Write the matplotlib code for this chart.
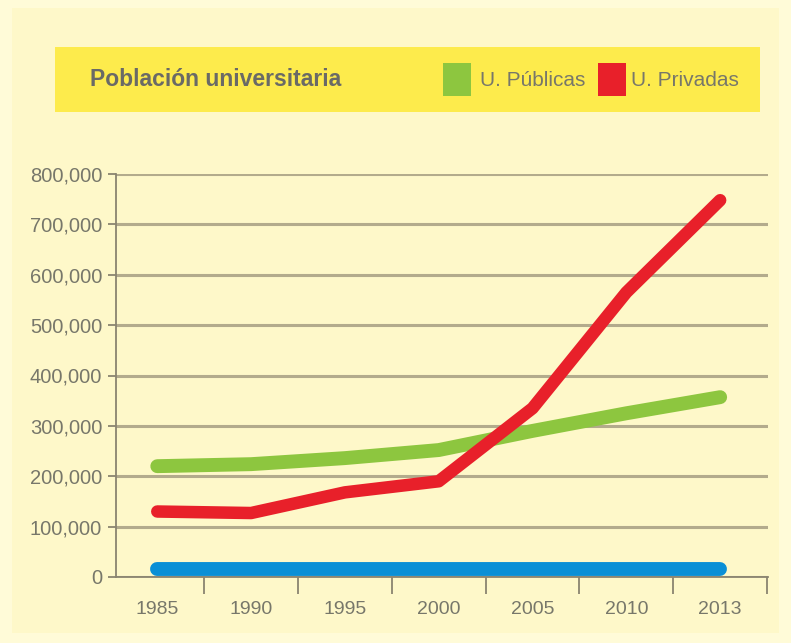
import matplotlib.pyplot as plt
from matplotlib.patches import Rectangle
from matplotlib.ticker import FuncFormatter, FixedLocator

plt.rcParams['font.family'] = ['Liberation Sans Narrow', 'Liberation Sans', 'DejaVu Sans']

years = ["1985", "1990", "1995", "2000", "2005", "2010", "2013"]
publicas = [220000, 224000, 236000, 252000, 290000, 325000, 357000]
privadas = [130000, 127000, 168000, 190000, 335000, 565000, 748000]
otras = [16000, 16000, 16000, 16000, 16000, 16000, 16000]

GREEN = "#8DC63F"
RED = "#E8202A"
BLUE = "#0A8FD6"
TXT = "#77776a"
GRID = "#b3ab8c"

fig = plt.figure(figsize=(7.91, 6.43), dpi=100)
fig.patch.set_facecolor("#FFFBD8")
fig.patches.append(Rectangle((12 / 791, 10 / 643), 767 / 791, 625 / 643,
                             transform=fig.transFigure, facecolor="#FEF8C9",
                             edgecolor="none", zorder=-2))

# title band
fig.patches.append(Rectangle((55 / 791, 1 - 112 / 643), 705 / 791, 65 / 643,
                             transform=fig.transFigure, facecolor="#FDEB4C",
                             edgecolor="none", zorder=-1))
fig.text(90 / 791, 1 - 80 / 643, "Población universitaria", fontsize=16.5,
         fontweight="bold", color="#6a6a66", va="center", ha="left")
fig.patches.append(Rectangle((443 / 791, 1 - 96 / 643), 28 / 791, 33 / 643,
                             transform=fig.transFigure, facecolor=GREEN,
                             edgecolor="none", zorder=-0.5))
fig.text(480 / 791, 1 - 80 / 643, "U. Públicas", fontsize=15, color=TXT,
         va="center", ha="left")
fig.patches.append(Rectangle((598 / 791, 1 - 96 / 643), 28 / 791, 33 / 643,
                             transform=fig.transFigure, facecolor=RED,
                             edgecolor="none", zorder=-0.5))
fig.text(631 / 791, 1 - 80 / 643, "U. Privadas", fontsize=15, color=TXT,
         va="center", ha="left")

ax = fig.add_axes([116 / 791, 1 - 577 / 643, (768 - 116) / 791, (577 - 174) / 643])
ax.set_facecolor("none")
x = list(range(len(years)))

ax.plot(x, otras, color=BLUE, lw=10, solid_capstyle="round", zorder=3,
        clip_on=False)
ax.plot(x, publicas, color=GREEN, lw=10, solid_capstyle="round",
        solid_joinstyle="round", zorder=4)
ax.plot(x, privadas, color=RED, lw=9, solid_capstyle="round",
        solid_joinstyle="round", zorder=5)

ax.set_xlim(-0.44, 6.51)
ax.set_ylim(0, 800000)
ax.set_yticks(range(0, 800001, 100000))
ax.yaxis.set_major_formatter(FuncFormatter(lambda v, p: f"{int(v):,}"))
ax.set_xticks(x)
ax.set_xticklabels(years)
ax.xaxis.set_minor_locator(FixedLocator([i + 0.5 for i in x]))

ax.grid(axis="y", color=GRID, lw=2.2, zorder=1)
ax.set_axisbelow(True)
for s in ["top", "right"]:
    ax.spines[s].set_visible(False)
for s in ["left", "bottom"]:
    ax.spines[s].set_color("#8a8470")
    ax.spines[s].set_linewidth(1.3)

ax.tick_params(axis="y", length=6, width=1.3, color="#8a8470", labelsize=14.5,
               labelcolor=TXT, pad=4)
ax.tick_params(axis="x", which="major", length=0, labelsize=14,
               labelcolor=TXT, pad=17)
ax.tick_params(axis="x", which="minor", length=12, width=1.3, color="#8a8470")

fig.savefig("out.png", dpi=100, facecolor=fig.get_facecolor())
